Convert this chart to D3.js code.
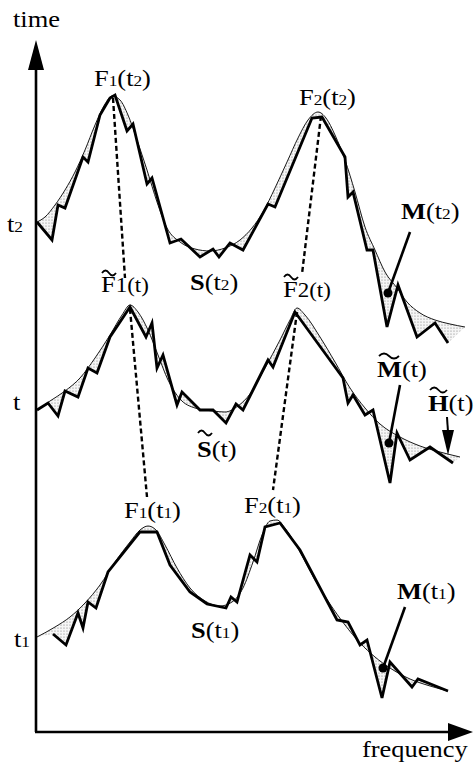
<!DOCTYPE html>
<html>
<head>
<meta charset="utf-8">
<script src="https://cdn.jsdelivr.net/npm/d3@7"></script>
<style>
  body { margin: 0; background: #fff; }
  text { font-family: "Liberation Serif", "Times New Roman", serif; fill: #000; }
</style>
</head>
<body>
<div id="chart"></div>
<script>
// time levels of the three spectra
var levels = { t1: 95, t: 322, t2: 510 };

// [frequency, amplitude] relative to each time level
var smoothT2 = [[0,0],[8,5],[18,17],[28,32],[38,50],[48,72],[58,97],[68,118],[75,126],[83,122],[91,107],[100,82],[110,52],[120,20],[130,-6],[143,-20],[158,-27],[173,-29],[188,-26],[203,-18],[215,-6],[226,10],[238,34],[250,60],[261,84],[271,102],[281,110],[289,104],[298,87],[308,62],[318,30],[328,-5],[338,-28],[348,-50],[360,-66],[370,-80],[383,-91],[398,-98],[413,-102],[428,-105]];
var jaggedT2 = [[0,0],[15,-18],[21,17],[28,14],[46,65],[51,60],[63,107],[73,124],[78,127],[90,91],[96,98],[110,38],[115,44],[133,-21],[144,-17],[163,-35],[176,-27],[182,-35],[193,-21],[206,-28],[231,18],[238,15],[275,104],[285,105],[308,65],[311,25],[316,30],[330,-28],[336,-28],[350,-105],[361,-63],[380,-115],[398,-101],[411,-121]];

var smoothT = [[0,0],[13,9],[28,19],[43,32],[58,52],[73,75],[85,95],[93,105],[101,98],[111,80],[121,55],[131,30],[143,11],[158,2],[176,-1],[188,-2],[201,4],[213,16],[228,42],[243,70],[253,90],[260,102],[268,95],[283,73],[298,48],[313,22],[328,2],[343,-14],[363,-27],[383,-36],[403,-42],[423,-47]];
var jaggedT = [[0,0],[11,7],[21,-6],[28,19],[41,13],[51,42],[60,37],[73,73],[93,103],[109,73],[115,87],[120,42],[126,55],[140,5],[145,18],[163,0],[176,0],[189,-13],[199,6],[206,0],[231,50],[236,43],[258,98],[306,32],[311,7],[316,15],[328,-5],[336,0],[353,-73],[360,-23],[373,-50],[393,-37],[416,-53]];

var smoothT1 = [[0,0],[18,10],[33,20],[48,34],[63,52],[78,75],[93,95],[103,107],[111,111],[119,107],[128,92],[140,69],[153,49],[168,36],[183,31],[195,35],[206,49],[216,75],[225,102],[233,116],[240,117],[248,109],[263,85],[278,57],[293,33],[308,12],[323,-6],[338,-20],[353,-31],[373,-42],[393,-49],[411,-54]];
var jaggedT1 = [[16,3],[29,-8],[41,24],[46,9],[51,35],[59,29],[71,65],[103,105],[120,105],[133,72],[153,45],[170,33],[189,29],[194,40],[200,35],[213,82],[220,75],[228,110],[243,114],[263,87],[300,17],[311,15],[323,-8],[330,-3],[345,-61],[353,-25],[375,-50],[381,-42],[411,-54]];

// formant tracks [frequency, time]
var trackF1 = [[[76,634],[88,454]], [[93,423],[110,235]]];
var trackF2 = [[[284,616],[265,458]], [[260,420],[236,242]]];

var width = 474, height = 767;

var svg = d3.select("#chart").append("svg")
  .attr("width", width)
  .attr("height", height);

var xScale = d3.scaleLinear().domain([0, 430]).range([37, 467]);
var yScale = d3.scaleLinear().domain([0, 700]).range([732, 32]);

var defs = svg.append("defs");
var pat = defs.append("pattern")
  .attr("id", "stipple")
  .attr("width", 3).attr("height", 3)
  .attr("patternUnits", "userSpaceOnUse");
pat.append("rect").attr("width", 3).attr("height", 3).attr("fill", "#f6f6f6");
pat.append("circle").attr("cx", 1).attr("cy", 1).attr("r", 0.6).attr("fill", "#777");

function drawSpectrum(level, smooth, jagged) {
  var smoothLine = d3.line()
    .x(function(d) { return xScale(d[0]); })
    .y(function(d) { return yScale(level + d[1]); })
    .curve(d3.curveMonotoneX);
  var jagLine = d3.line()
    .x(function(d) { return xScale(d[0]); })
    .y(function(d) { return yScale(level + d[1]); });

  var back = jagged.slice().reverse();
  var area = smoothLine(smooth) + back.map(function(d) {
    return "L" + xScale(d[0]) + "," + yScale(level + d[1]);
  }).join("") + "Z";

  svg.append("path")
    .attr("d", area)
    .attr("fill", "url(#stipple)")
    .attr("fill-rule", "evenodd");
  svg.append("path")
    .attr("d", smoothLine(smooth))
    .attr("fill", "none")
    .attr("stroke", "#000")
    .attr("stroke-width", 0.9);
  svg.append("path")
    .attr("d", jagLine(jagged))
    .attr("fill", "none")
    .attr("stroke", "#000")
    .attr("stroke-width", 2.8)
    .attr("stroke-linejoin", "miter");
}

drawSpectrum(levels.t2, smoothT2, jaggedT2);
drawSpectrum(levels.t, smoothT, jaggedT);
drawSpectrum(levels.t1, smoothT1, jaggedT1);

// dashed formant tracks
trackF1.concat(trackF2).forEach(function(seg) {
  svg.append("line")
    .attr("x1", xScale(seg[0][0])).attr("y1", yScale(seg[0][1]))
    .attr("x2", xScale(seg[1][0])).attr("y2", yScale(seg[1][1]))
    .attr("stroke", "#000")
    .attr("stroke-width", 2.4)
    .attr("stroke-dasharray", "5,3");
});

// axes
svg.append("line")
  .attr("x1", 36).attr("y1", 732).attr("x2", 36).attr("y2", 62)
  .attr("stroke", "#000").attr("stroke-width", 2.6);
svg.append("path")
  .attr("d", "M28,70L44,70L36,40Z").attr("fill", "#000");
svg.append("line")
  .attr("x1", 35).attr("y1", 732).attr("x2", 455).attr("y2", 732)
  .attr("stroke", "#000").attr("stroke-width", 2.6);
svg.append("path")
  .attr("d", "M448,723L448,741L473,732Z").attr("fill", "#000");

// text helpers
function label(x, y, parts) {
  var t = svg.append("g")
    .attr("transform", "translate(" + x + "," + y + ") scale(1.15,1)")
    .append("text");
  parts.forEach(function(p) {
    t.append("tspan")
      .attr("font-size", p[1])
      .attr("font-weight", p[2] ? "bold" : "normal")
      .text(p[0]);
  });
}
function tilde(x, y, w) {
  svg.append("path")
    .attr("d", "M" + x + "," + y + "Q" + (x + w / 4) + "," + (y - 5) + " " + (x + w / 2) + "," + y + "T" + (x + w) + "," + y)
    .attr("fill", "none")
    .attr("stroke", "#000")
    .attr("stroke-width", 1.8);
}

var big = 23, sub = 15;

label(13, 27, [["time", big]]);
label(362, 757, [["frequency", big]]);
label(7, 232, [["t", big], ["2", sub]]);
label(13, 410, [["t", big]]);
label(14, 647, [["t", big], ["1", sub]]);

label(94, 86, [["F", big], ["1", sub], ["(t", big], ["2", sub], [")", big]]);
label(299, 105, [["F", big], ["2", sub], ["(t", big], ["2", sub], [")", big]]);
label(101, 292, [["F", big], ["1", 20], ["(t)", 20]]);
tilde(102, 273, 14);
label(283, 297, [["F", big], ["2", 20], ["(t)", 20]]);
tilde(284, 277, 14);
label(124, 518, [["F", big], ["1", sub], ["(t", big], ["1", sub], [")", big]]);
label(244, 513, [["F", big], ["2", sub], ["(t", big], ["1", sub], [")", big]]);

label(190, 290, [["S", big, true], ["(t", big], ["2", sub], [")", big]]);
label(197, 457, [["S", big, true], ["(t)", big]]);
tilde(198, 433, 14);
label(191, 638, [["S", big, true], ["(t", big], ["1", sub], [")", big]]);

label(401, 219, [["M", big, true], ["(t", big], ["2", sub], [")", big]]);
label(377, 377, [["M", big, true], ["(t)", big]]);
tilde(379, 356, 20);
label(428, 411, [["H", big, true], ["(t)", big]]);
tilde(430, 390, 17);
label(397, 599, [["M", big, true], ["(t", big], ["1", sub], [")", big]]);

// pointers to M
var pointers = [[410, 232, 388, 293], [400, 385, 389, 443], [405, 607, 383, 668]];
pointers.forEach(function(p) {
  svg.append("line")
    .attr("x1", p[0]).attr("y1", p[1]).attr("x2", p[2]).attr("y2", p[3])
    .attr("stroke", "#000").attr("stroke-width", 2.6);
  svg.append("circle").attr("cx", p[2]).attr("cy", p[3]).attr("r", 4.5).attr("fill", "#000");
});

// arrow to H
svg.append("line")
  .attr("x1", 447).attr("y1", 417).attr("x2", 448).attr("y2", 432)
  .attr("stroke", "#000").attr("stroke-width", 2);
svg.append("path").attr("d", "M442,430L454,430L448,455Z").attr("fill", "#000");
</script>
</body>
</html>
